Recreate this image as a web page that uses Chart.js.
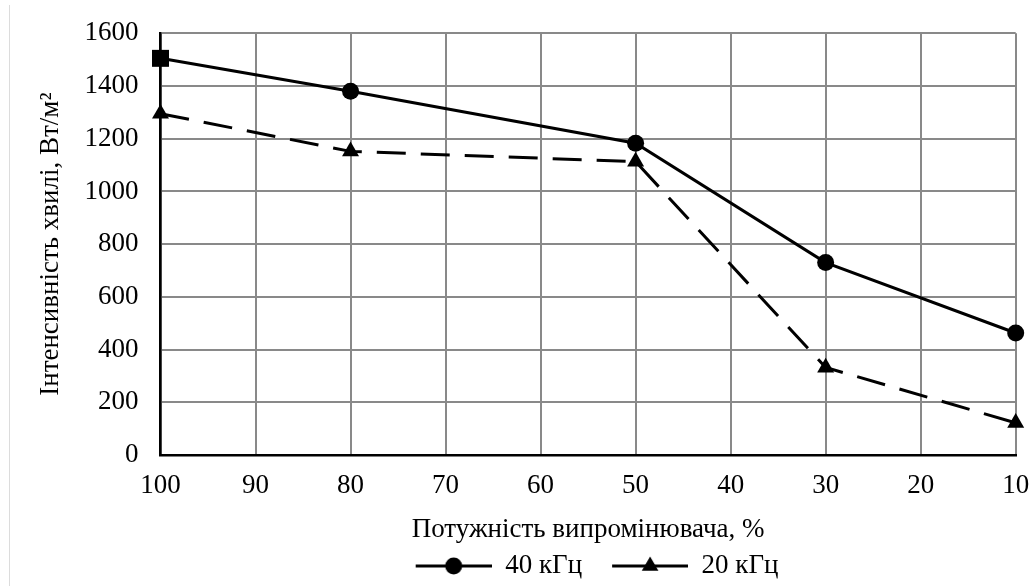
<!DOCTYPE html>
<html>
<head>
<meta charset="utf-8">
<script src="https://cdn.jsdelivr.net/npm/chart.js@4.4.1/dist/chart.umd.min.js"></script>
<style>
  html, body { margin: 0; padding: 0; background: #ffffff; }
  #wrap { position: relative; width: 1032px; height: 586px; }
  #edge { position: absolute; left: 9px; top: 5px; bottom: 0; width: 1px; background: #dcdcdc; }
</style>
</head>
<body>
<div id="wrap">
  <canvas id="c" width="1032" height="586"></canvas>
  <div id="edge"></div>
</div>
<script>
// ---- data ----
const powerPct = [100, 80, 50, 30, 10];
const intensity40 = [1505, 1380, 1183, 730, 463];
const intensity20 = [1295, 1152, 1113, 332, 122];
const seriesNames = ['40 кГц', '20 кГц'];
const xTickLabels = [100, 90, 80, 70, 60, 50, 40, 30, 20, 10];
const yTickLabels = [0, 200, 400, 600, 800, 1000, 1200, 1400, 1600];
const xTitle = 'Потужність випромінювача, %';
const yTitle = 'Інтенсивність хвилі, Вт/м²';

const FONT = 'Liberation Serif';
const FS = 27;

function toPoints(xs, ys) { return xs.map((x, i) => ({ x: x, y: ys[i] })); }

// legend sample: transparent left margin (18px) + 76px line with marker
function legendIcon(kind) {
  const m = 18, w = 76;
  const c = document.createElement('canvas');
  c.width = m + w; c.height = 22;
  const g = c.getContext('2d');
  g.strokeStyle = '#000'; g.lineWidth = 3;
  g.beginPath(); g.moveTo(m, 11); g.lineTo(m + w, 11); g.stroke();
  g.fillStyle = '#000';
  const cx = m + w / 2;
  g.beginPath();
  if (kind === 'circle') {
    g.arc(cx, 11, 8.5, 0, Math.PI * 2);
  } else {
    g.moveTo(cx, 11 - 9.5);
    g.lineTo(cx + 8.3, 11 + 4.8);
    g.lineTo(cx - 8.3, 11 + 4.8);
    g.closePath();
  }
  g.fill();
  return c;
}
const icons = [legendIcon('circle'), legendIcon('triangle')];

const chart = new Chart(document.getElementById('c'), {
  type: 'line',
  data: {
    datasets: [
      {
        label: seriesNames[0],
        data: toPoints(powerPct, intensity40),
        borderColor: '#000',
        backgroundColor: '#000',
        borderWidth: 3,
        pointStyle: ['rect', 'circle', 'circle', 'circle', 'circle'],
        pointRadius: [12, 8.5, 8.5, 8.5, 8.5],
        pointBackgroundColor: '#000',
        pointBorderColor: '#000',
        pointBorderWidth: 0,
        tension: 0,
        clip: false
      },
      {
        label: seriesNames[1],
        data: toPoints(powerPct, intensity20),
        borderColor: '#000',
        backgroundColor: '#000',
        borderWidth: 3,
        borderDash: [29, 15],
        pointStyle: 'triangle',
        pointRadius: 9.8,
        pointBackgroundColor: '#000',
        pointBorderColor: '#000',
        pointBorderWidth: 0,
        tension: 0,
        clip: false
      }
    ]
  },
  options: {
    responsive: false,
    animation: false,
    devicePixelRatio: 1,
    layout: { padding: { left: 0, right: 16.3, top: 33.3, bottom: -3.5 } },
    plugins: {
      tooltip: { enabled: false },
      legend: {
        position: 'bottom',
        fullSize: false,
        labels: {
          usePointStyle: true,
          pointStyleWidth: 94,
          padding: 12,
          color: '#000',
          font: { family: FONT, size: FS },
          generateLabels: (ch) => ch.data.datasets.map((ds, i) => ({
            text: ds.label,
            fillStyle: '#000',
            strokeStyle: '#000',
            lineWidth: 0,
            pointStyle: icons[i],
            hidden: false,
            datasetIndex: i,
            fontColor: '#000'
          }))
        }
      }
    },
    scales: {
      x: {
        type: 'linear',
        reverse: true,
        min: xTickLabels[xTickLabels.length - 1],
        max: xTickLabels[0],
        afterBuildTicks: (s) => { s.ticks = xTickLabels.map(v => ({ value: v })); },
        afterFit: (s) => { s.height = 85.5; },
        ticks: {
          padding: 0,
          color: '#000',
          font: { family: FONT, size: FS },
          maxRotation: 0,
          autoSkip: false,
          callback: (v) => String(v)
        },
        grid: { color: '#898989', lineWidth: 2, drawTicks: true, tickLength: 14.8, tickColor: 'rgba(0,0,0,0)' },
        border: { display: true, color: '#000', width: 2.5 },
        title: {
          display: true,
          text: xTitle,
          color: '#000',
          font: { family: FONT, size: FS, lineHeight: 1 },
          padding: { top: 0, bottom: -3 }
        }
      },
      y: {
        type: 'linear',
        min: yTickLabels[0],
        max: yTickLabels[yTickLabels.length - 1],
        afterBuildTicks: (s) => { s.ticks = yTickLabels.map(v => ({ value: v })); },
        afterFit: (s) => { s.width = 160.5; },
        ticks: {
          padding: 0,
          color: '#000',
          font: { family: FONT, size: FS },
          callback: (v) => String(v)
        },
        grid: { color: '#898989', lineWidth: 2, drawTicks: true, tickLength: 22, tickColor: 'rgba(0,0,0,0)' },
        border: { display: true, color: '#000', width: 2.5 },
        title: {
          display: true,
          text: yTitle,
          color: '#000',
          font: { family: FONT, size: FS, lineHeight: 1 },
          padding: { top: 37.5, bottom: 0 }
        }
      }
    }
  }
});
</script>
</body>
</html>
